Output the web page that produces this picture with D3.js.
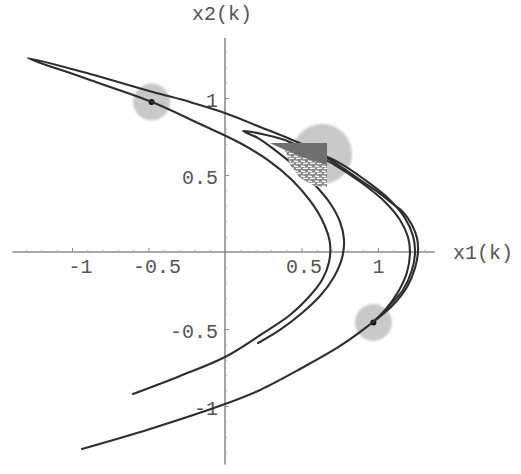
<!DOCTYPE html>
<html>
<head>
<meta charset="utf-8">
<script src="https://cdn.jsdelivr.net/npm/d3@7"></script>
<style>
  html, body { margin: 0; padding: 0; background: #fff; }
  svg { display: block; }
  .lbl { font-family: "Liberation Mono", "DejaVu Sans Mono", monospace; font-size: 20px; fill: #555; }
</style>
</head>
<body>
<svg id="chart" width="521" height="474"></svg>
<script>
// Orbit branches of the map, as (x1, x2) pairs.
const outerCurve = [
  [-0.935,-1.279],[-0.490,-1.149],[0.000,-0.987],[0.229,-0.896],[0.490,-0.760],
  [0.752,-0.610],[0.967,-0.455],[1.098,-0.344],[1.190,-0.227],[1.242,-0.104],
  [1.261,0.000],[1.255,0.091],[1.222,0.175],[1.163,0.260],[1.098,0.312],
  [0.980,0.403],[0.882,0.468],[0.752,0.558],[0.556,0.675],[0.425,0.734],
  [0.229,0.812],[0.000,0.903],[-0.229,0.974],[-0.471,1.039],[-0.882,1.156],
  [-1.288,1.260],
  [-0.882,1.117],[-0.477,0.974],[-0.163,0.831],[0.098,0.708],[0.281,0.597],
  [0.438,0.468],[0.562,0.325],[0.647,0.182],[0.686,0.058],[0.680,-0.065],
  [0.634,-0.182],[0.542,-0.299],[0.425,-0.409],[0.242,-0.532],[0.000,-0.682],
  [-0.294,-0.805],[-0.601,-0.922]
];
const innerCurve = [
  [0.216,-0.591],[0.359,-0.506],[0.503,-0.396],[0.621,-0.286],[0.712,-0.162],
  [0.765,-0.039],[0.778,0.078],[0.752,0.195],[0.686,0.318],[0.588,0.435],
  [0.464,0.552],[0.327,0.662],[0.216,0.740],[0.118,0.786],
  [0.242,0.766],[0.392,0.727],[0.556,0.649],[0.719,0.565],[0.895,0.448],
  [1.046,0.325],[1.144,0.208],[1.196,0.097],[1.209,0.000],[1.190,-0.130],
  [1.131,-0.260],[1.046,-0.377],[0.980,-0.442]
];
const bandCurve = [
  [0.490,0.688],[0.739,0.584],[0.915,0.468],[1.078,0.338],[1.176,0.221],
  [1.229,0.104],[1.242,0.000],[1.222,-0.117],[1.163,-0.247],[1.078,-0.344],
  [1.000,-0.429]
];
// Densely folded part of the orbit next to the fixed point.
const denseCore = [[0.294,0.708],[0.667,0.708],[0.667,0.565],[0.523,0.610],[0.392,0.662]];
const denseHatch = [[0.392,0.662],[0.667,0.597],[0.667,0.422],[0.588,0.429],[0.490,0.481],[0.425,0.565]];

// Fixed point and period-2 orbit.
const fixedPoint = [[0.634,0.636]];
const period2 = [[-0.480,0.974],[0.970,-0.458]];

const xTicks = [-1, -0.5, 0.5, 1];
const yTicks = [-1, -0.5, 0.5, 1];
const xTickLabels = ["-1", "-0.5", "0.5", "1"];
const yTickLabels = ["-1", "-0.5", "0.5", "1"];
const minorTicks = [-1.3,-1.2,-1.1,-0.9,-0.8,-0.7,-0.6,-0.4,-0.3,-0.2,-0.1,0.1,0.2,0.3,0.4,0.6,0.7,0.8,0.9,1.1,1.2,1.3];
const xExtent = [-1.39, 1.37];
const yExtent = [-1.38, 1.39];

const svg = d3.select("#chart");
const x = d3.scaleLinear().domain([-1, 1]).range([72, 378]);
const y = d3.scaleLinear().domain([-1, 1]).range([406, 98]);
const x0 = x(0), y0 = y(0);

const defs = svg.append("defs");
defs.append("filter").attr("id", "soft")
  .append("feGaussianBlur").attr("stdDeviation", 1.2);
const pat = defs.append("pattern").attr("id", "hatch")
  .attr("patternUnits", "userSpaceOnUse").attr("width", 7).attr("height", 5);
pat.append("rect").attr("width", 7).attr("height", 5).attr("fill", "#8a8a8a");
pat.append("path").attr("d", "M0,1 L4,1.6 M2,3.6 L7,3.2").attr("stroke", "#fff").attr("stroke-width", 1.3);

// Shaded neighbourhoods of the periodic points
svg.append("g").attr("filter", "url(#soft)")
  .selectAll("circle").data(fixedPoint.map(d => [d, 30]).concat(period2.map(d => [d, 18.5])))
  .join("circle")
  .attr("cx", d => x(d[0][0])).attr("cy", d => y(d[0][1])).attr("r", d => d[1])
  .attr("fill", "#c9c9c9");

// Axes
const axisColor = "#8c8c8c";
const gx = svg.append("g").attr("transform", `translate(0,${y0})`);
gx.append("line").attr("x1", x(xExtent[0])).attr("x2", x(xExtent[1]))
  .attr("stroke", axisColor).attr("stroke-width", 1.6);
gx.append("g").call(d3.axisBottom(x).tickValues(minorTicks).tickSize(-2).tickFormat(""))
  .call(g => g.select(".domain").remove())
  .call(g => g.selectAll("line").attr("stroke", "#b0b0b0"));
gx.append("g").call(d3.axisBottom(x).tickValues(xTicks).tickSize(-4).tickPadding(7)
    .tickFormat((d, i) => xTickLabels[i]))
  .call(g => g.select(".domain").remove())
  .call(g => g.selectAll("line").attr("stroke", axisColor))
  .call(g => g.selectAll("text").attr("class", "lbl").attr("font-family", null).attr("font-size", null)
    .attr("dx", d => d < 0 ? 8 : (d < 1 ? 2 : 0)));

const gy = svg.append("g").attr("transform", `translate(${x0},0)`);
gy.append("line").attr("y1", y(yExtent[1])).attr("y2", y(yExtent[0]))
  .attr("stroke", axisColor).attr("stroke-width", 1.6);
gy.append("g").call(d3.axisLeft(y).tickValues(minorTicks).tickSize(-2).tickFormat(""))
  .call(g => g.select(".domain").remove())
  .call(g => g.selectAll("line").attr("stroke", "#b0b0b0"));
gy.append("g").call(d3.axisLeft(y).tickValues(yTicks).tickSize(-4).tickPadding(7)
    .tickFormat((d, i) => yTickLabels[i]))
  .call(g => g.select(".domain").remove())
  .call(g => g.selectAll("line").attr("stroke", axisColor))
  .call(g => g.selectAll("text").attr("class", "lbl").attr("font-family", null).attr("font-size", null)
    .attr("dy", "0.4em"));

svg.append("text").attr("class", "lbl").attr("x", 453).attr("y", 259).text("x1(k)");
svg.append("text").attr("class", "lbl").attr("x", 192).attr("y", 20).text("x2(k)");

// Period points
svg.selectAll("circle.pt").data(fixedPoint.concat(period2)).join("circle")
  .attr("class", "pt").attr("cx", d => x(d[0])).attr("cy", d => y(d[1])).attr("r", 3)
  .attr("fill", "#111");

// Orbit branches
const line = d3.line().x(d => x(d[0])).y(d => y(d[1])).curve(d3.curveCatmullRom.alpha(0.5));
svg.append("g").attr("fill", "none").attr("stroke", "#2e2e2e").attr("stroke-width", 2.1)
  .attr("stroke-linejoin", "round").attr("stroke-linecap", "round")
  .selectAll("path").data([outerCurve, innerCurve, bandCurve]).join("path")
  .attr("d", line);

// Dense fold region
const area = d3.line().x(d => x(d[0])).y(d => y(d[1]));
svg.append("path").attr("d", area(denseHatch) + "Z").attr("fill", "url(#hatch)");
svg.append("path").attr("d", area(denseCore) + "Z").attr("fill", "#6f6f6f");
</script>
</body>
</html>
